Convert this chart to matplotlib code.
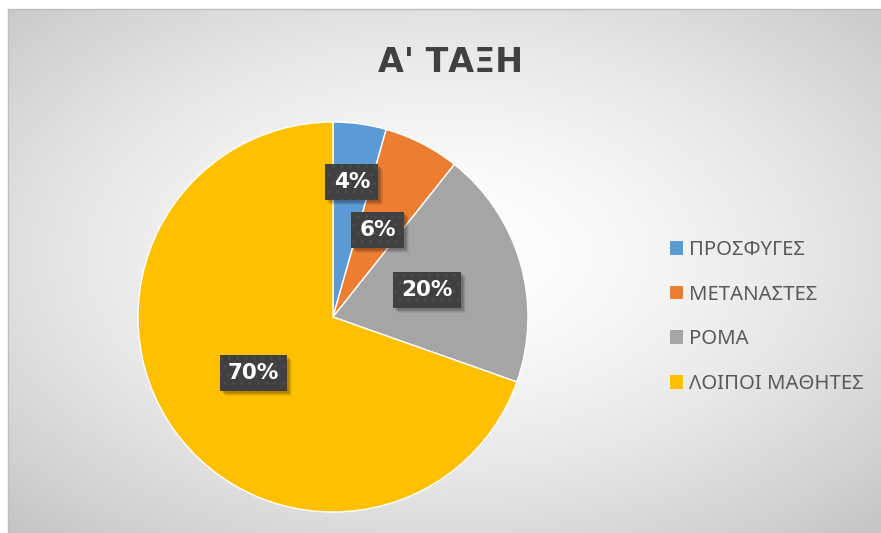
import matplotlib
matplotlib.use("Agg")
import matplotlib.pyplot as plt
import matplotlib.transforms as mtransforms
from matplotlib.patches import Rectangle
import numpy as np

title = "Α' ΤΑΞΗ"
categories = ["ΠΡΟΣΦΥΓΕΣ", "ΜΕΤΑΝΑΣΤΕΣ", "ΡΟΜΑ", "ΛΟΙΠΟΙ ΜΑΘΗΤΕΣ"]
values = [4.4, 6.3, 19.7, 69.6]
colors = ["#5B9BD5", "#ED7D31", "#A5A5A5", "#FFC000"]
label_dist = [0.70, 0.50, 0.50, 0.50]

W, H = 881, 533
fig = plt.figure(figsize=(W / 100, H / 100), dpi=100, facecolor="white")

# chart area background: radial gradient, white centre to light grey
bg = fig.add_axes([8 / W, 0, 1 - 8 / W, 1 - 9 / H])
yy, xx = np.mgrid[0:1:300j, 0:1:500j]
r = np.sqrt(((xx - 0.5) / 0.5) ** 2 + ((yy - 0.47) / 0.5) ** 2) / np.sqrt(2)
r = np.clip(r, 0, 1)
shade = 1 - 0.22 * r ** 1.6
bg.imshow(np.dstack([shade] * 3), extent=[0, 1, 0, 1], origin="upper",
          aspect="auto", interpolation="bilinear")
bg.set_xlim(0, 1)
bg.set_ylim(0, 1)
bg.set_xticks([])
bg.set_yticks([])
for s in ["right", "bottom"]:
    bg.spines[s].set_visible(False)
for s in ["left", "top"]:
    bg.spines[s].set_color("#bfbfbf")
    bg.spines[s].set_linewidth(1)

fig.text(451 / W, 1 - 63 / H, title, ha="center", va="center",
         fontsize=24, fontweight="bold", color="#404040", family="DejaVu Sans")

# pie
cx, cy, R = 333, 317, 195
ax = fig.add_axes([(cx - R) / W, (H - cy - R) / H, 2 * R / W, 2 * R / H])
wedges, _ = ax.pie(values, colors=colors, startangle=90, counterclock=False,
                   radius=1, wedgeprops=dict(edgecolor="white", linewidth=1))
ax.set_xlim(-1, 1)
ax.set_ylim(-1, 1)
ax.set_aspect("equal")
ax.axis("off")

total = sum(values)
labels = []
for w, v, d in zip(wedges, values, label_dist):
    ang = np.deg2rad((w.theta1 + w.theta2) / 2)
    t = ax.text(d * np.cos(ang), d * np.sin(ang), f"{v / total * 100:.0f}%",
                ha="center", va="center", fontsize=15.5, fontweight="bold",
                color="white", family="DejaVu Sans", zorder=5,
                bbox=dict(boxstyle="square,pad=0.38", facecolor="#404040",
                          edgecolor="#4c4c4c", linewidth=0, hatch=".."))
    labels.append(t)

# soft drop shadow behind each label box
fig.canvas.draw()
renderer = fig.canvas.get_renderer()
for t in labels:
    bb = t.get_bbox_patch().get_window_extent(renderer)
    for k, a in [(2, 0.10), (3, 0.10), (4, 0.08), (5, 0.06)]:
        ax.add_patch(Rectangle((bb.x0 + k, bb.y0 - k), bb.width, bb.height,
                               transform=mtransforms.IdentityTransform(),
                               facecolor="black", alpha=a, linewidth=0,
                               zorder=4, clip_on=False))

leg = fig.legend(wedges, categories, loc="center left",
                 bbox_to_anchor=(670 / W, (H - 317) / H), frameon=False,
                 borderpad=0, borderaxespad=0, handlelength=0.65,
                 handleheight=0.65, handletextpad=0.3, labelspacing=1.22,
                 prop=dict(family=["Noto Sans", "DejaVu Sans"], size=14.6))
for txt in leg.get_texts():
    txt.set_color("#595959")
for h in leg.legend_handles:
    h.set_edgecolor("none")

fig.savefig("out.png", dpi=100)
